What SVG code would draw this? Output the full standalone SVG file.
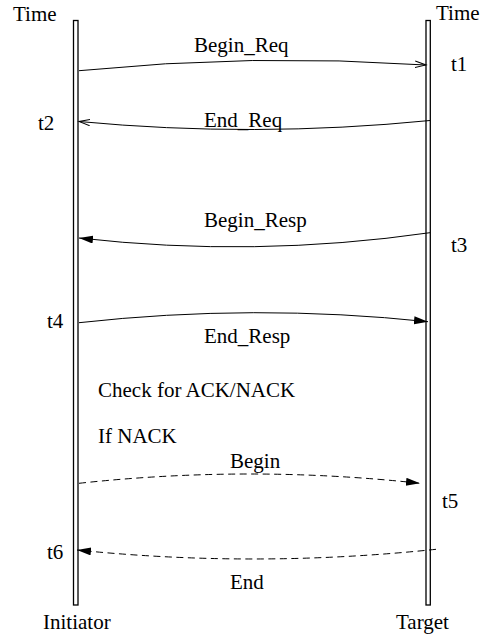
<svg xmlns="http://www.w3.org/2000/svg" width="481" height="636" viewBox="0 0 481 636">
<style>
.bar{fill:#fff;stroke:#000;stroke-width:1.3}
.msg{fill:none;stroke:#000;stroke-width:1}
.dash{stroke-dasharray:7,4.5}
text{font-family:'Liberation Serif','DejaVu Serif',serif;font-size:21px;fill:#000}
</style>
<defs>
<marker id="open" markerUnits="userSpaceOnUse" markerWidth="14" markerHeight="10" refX="11" refY="4" orient="auto">
<path d="M0,0.8 L11,4 L0,7.2" fill="none" stroke="#000" stroke-width="1"/>
</marker>
<marker id="fill" markerUnits="userSpaceOnUse" markerWidth="16" markerHeight="10" refX="14" refY="4" orient="auto">
<path d="M0,0 L14,4 L0,8 Z" fill="#000"/>
</marker>
</defs>
<g id="initiator">
<rect class="bar" x="73.5" y="20.5" width="4.5" height="584.5"/>
<text x="13" y="21">Time</text>
<text x="43" y="629">Initiator</text>
</g>
<g id="target">
<rect class="bar" x="426" y="20.5" width="4.3" height="584.5"/>
<text x="436" y="20">Time</text>
<text x="396" y="629">Target</text>
</g>
<g id="connectors">
<path class="msg" d="M79,70.7 Q252,53.2 426,65" marker-end="url(#open)"/>
<path class="msg" d="M430,120.5 Q254,138 79,121.5" marker-end="url(#open)"/>
<path class="msg" d="M430,232.7 Q254,258 79,238" marker-end="url(#fill)"/>
<path class="msg" d="M79,322.7 Q254,303.2 428,321.7" marker-end="url(#fill)"/>
<path class="msg dash" d="M79,483.3 Q250,464.7 420,483.3" marker-end="url(#fill)"/>
<path class="msg dash" d="M436,549.3 Q256,568.3 77,550" marker-end="url(#fill)"/>
</g>
<g id="labels">
<text x="194" y="52">Begin_Req</text>
<text x="204" y="127">End_Req</text>
<text x="204" y="227">Begin_Resp</text>
<text x="204" y="343">End_Resp</text>
<text x="98" y="397">Check for ACK/NACK</text>
<text x="98" y="443">If NACK</text>
<text x="230" y="468">Begin</text>
<text x="230" y="589">End</text>
<text x="451" y="71">t1</text>
<text x="38" y="130">t2</text>
<text x="451" y="252">t3</text>
<text x="47" y="328">t4</text>
<text x="442" y="508">t5</text>
<text x="47" y="559">t6</text>
</g>
</svg>
